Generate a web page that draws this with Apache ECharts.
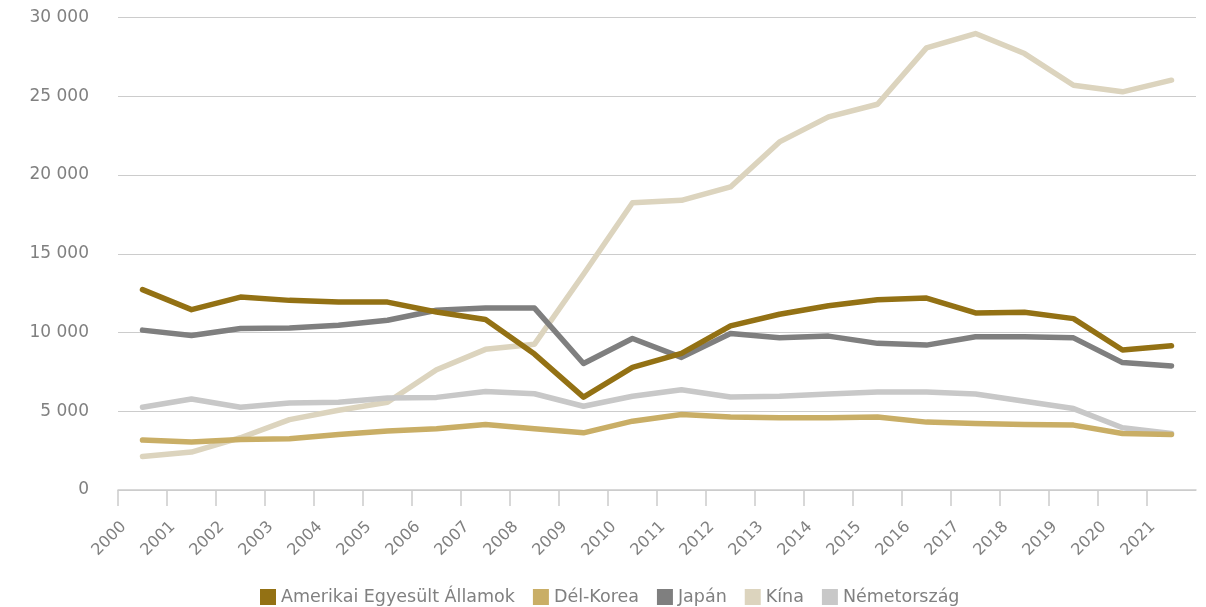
<!DOCTYPE html>
<html>
<head>
<meta charset="utf-8">
<script src="https://cdn.jsdelivr.net/npm/echarts@6/dist/echarts.min.js"></script>
<style>
html,body{margin:0;padding:0;background:#fff;}
#chart{width:1206px;height:607px;}
</style>
</head>
<body>
<div id="chart"></div>
<script>
const years = ['2000','2001','2002','2003','2004','2005','2006','2007','2008','2009','2010','2011','2012','2013','2014','2015','2016','2017','2018','2019','2020','2021'];
const usa     = [12720,11450,12250,12040,11930,11930,11300,10820,8630,5900,7790,8680,10420,11160,11700,12080,12190,11240,11280,10880,8890,9160];
const korea   = [3170,3050,3210,3260,3530,3740,3890,4160,3890,3630,4370,4790,4640,4580,4580,4640,4310,4220,4160,4120,3590,3530];
const japan   = [10150,9810,10250,10290,10460,10780,11410,11550,11550,8030,9620,8420,9940,9660,9770,9310,9200,9730,9730,9660,8090,7880];
const china   = [2120,2410,3320,4470,5060,5570,7630,8930,9260,13700,18240,18390,19240,22100,23690,24490,28070,28980,27710,25700,25280,26020];
const germany = [5250,5780,5250,5530,5570,5840,5880,6260,6110,5320,5950,6370,5900,5950,6090,6220,6220,6090,5630,5170,3950,3590];
const seriesNames = ['Amerikai Egyesült Államok','Dél-Korea','Japán','Kína','Németország'];
const colors = ['#937114','#C9AE66','#7F7F7F','#DCD4BE','#C8C8C8'];
const tickLabels = years.concat(['']);

const chart = echarts.init(document.getElementById('chart'));
const font = 'DejaVu Sans, sans-serif';
const mk = (name, data, color) => ({
  name, type: 'line', data, xAxisIndex: 0, symbol: 'none',
  lineStyle: {width: 5.5, color, cap: 'round', join: 'round'},
  itemStyle: {color}
});
chart.setOption({
  animation: false,
  grid: {left: 118, right: 10, top: 17.5, bottom: 117, containLabel: false},
  xAxis: [
    {type: 'category', data: years, boundaryGap: true, show: false},
    {type: 'category', data: tickLabels, boundaryGap: false, position: 'bottom',
     axisLine: {show: true, lineStyle: {color: '#CCCCCC', width: 1.5}},
     axisTick: {show: true, length: 16, lineStyle: {color: '#CCCCCC', width: 1.5},
                interval: (i) => i < years.length},
     axisLabel: {rotate: 45, color: '#808080', fontSize: 16, fontFamily: font, margin: 40,
                 padding: [0, -8, 0, 0], interval: 0},
     splitLine: {show: false}}
  ],
  yAxis: {
    type: 'value', min: 0, max: 30000, interval: 5000,
    axisLine: {show: false}, axisTick: {show: false},
    axisLabel: {color: '#808080', fontSize: 17, fontFamily: font, margin: 29,
      formatter: v => String(v).replace(/\B(?=(\d{3})+(?!\d))/g, ' ')},
    splitLine: {lineStyle: {color: '#CCCCCC', width: 1.2}}
  },
  legend: {
    top: 588, left: 260, padding: 0, icon: 'rect', itemWidth: 16, itemHeight: 16, itemGap: 18,
    itemStyle: {borderWidth: 0},
    textStyle: {color: '#808080', fontSize: 17.5, fontFamily: font},
    data: seriesNames
  },
  series: [
    mk(seriesNames[3], china, colors[3]),
    mk(seriesNames[4], germany, colors[4]),
    mk(seriesNames[1], korea, colors[1]),
    mk(seriesNames[2], japan, colors[2]),
    mk(seriesNames[0], usa, colors[0])
  ]
});
</script>
</body>
</html>
